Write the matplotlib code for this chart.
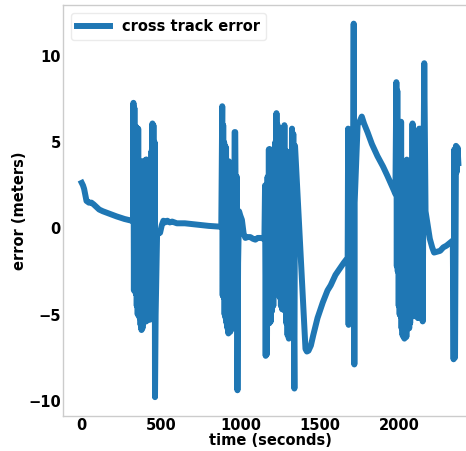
import numpy as np
import matplotlib
matplotlib.use('Agg')
import matplotlib.pyplot as plt

# time (s) and cross track error (m)
drift1_t = [0, 8, 15, 30, 45, 61, 75, 93, 110, 133, 177, 220, 270, 315, 323]
drift1_y = [2.65, 2.5, 2.3, 1.6, 1.5, 1.5, 1.4, 1.25, 1.1, 1.0, 0.85, 0.7, 0.55, 0.45, 0.4]

burst1_t = [326, 329, 332, 335, 338, 341, 344, 347, 350, 353, 356, 359, 362, 365, 368,
            371, 374, 377, 380, 383, 386, 389, 392, 395, 398, 401, 404, 407, 410, 413,
            416, 419, 422, 425, 428, 431, 434, 437, 440, 443, 446, 449, 452, 455, 460,
            462, 466, 475]
burst1_y = [7.3, -3.6, 7.0, -3.5, 5.9, -3.8, 5.9, -4.5, 4.5, -5.0, 5.8, -4.8, 3.9, -5.2, 3.8,
            -5.6, 3.7, -5.9, 3.9, -5.8, 3.6, -5.5, 3.9, -5.3, 3.8, -5.1, 4.0, -5.4, 4.0, -5.2,
            3.5, -5.3, 3.0, -5.0, 3.5, -5.3, 2.5, -5.2, 4.5, -5.0, 6.1, -4.5, 6.0, -3.5, 5.0,
            -9.8, -5.0, -0.4]

drift2_t = [482, 494, 505, 515, 525, 540, 555, 570, 600, 650, 700, 750, 800, 850, 880]
drift2_y = [-0.3, -0.25, 0.2, 0.45, 0.35, 0.45, 0.35, 0.4, 0.3, 0.3, 0.25, 0.2, 0.15, 0.12, 0.1]

burst2_t = [886, 889, 892, 895, 898, 901, 904, 907, 910, 913, 916, 919, 922, 925, 928,
            931, 934, 937, 940, 943, 946, 949, 952, 955, 958, 961, 964, 968, 974, 978,
            982, 986, 992]
burst2_y = [7.1, -3.9, 6.0, -4.0, 5.0, -5.0, 4.8, -5.2, 4.7, -5.5, 3.9, -5.8, 3.8, -6.1, 3.9,
            -5.9, 3.6, -6.0, 3.7, -5.6, 3.5, -5.8, 3.0, -5.8, 2.5, -5.0, 5.6, 5.6, -4.5, 3.0,
            -9.4, -2.0, 1.0]

drift3_t = [1000, 1010, 1021, 1032, 1045, 1063, 1080, 1095, 1110, 1127, 1152]
drift3_y = [0.75, 0.5, -0.3, -0.55, -0.5, -0.5, -0.6, -0.65, -0.55, -0.55, -0.6]

burst3_t = [1156, 1160, 1164, 1168, 1172, 1176, 1180, 1184, 1188, 1192, 1196, 1200, 1204,
            1208, 1212, 1216, 1220, 1224, 1228, 1232, 1236, 1240, 1244, 1248, 1252, 1256,
            1260, 1264, 1268, 1272, 1278, 1282, 1286, 1290, 1294, 1298, 1302, 1306, 1310,
            1314, 1318, 1322, 1326, 1330, 1334, 1338, 1341, 1345]
burst3_y = [2.5, -7.4, 2.4, -7.3, 3.0, -5.5, 4.6, -5.5, 4.6, -5.4, 4.4, -4.8, 3.5,
            -4.5, 4.5, -3.8, 5.0, -3.7, 6.7, -3.6, 6.0, -3.8, 5.2, -4.0, 4.8, -4.5,
            5.0, -4.7, 4.5, -4.6, 6.0, -4.8, 4.5, -5.5, 4.0, -6.2, 3.5, -6.4, 3.8,
            -5.5, 4.5, -5.0, 5.8, -4.0, 5.5, -5.5, -9.3, 4.8]

dip_t = [1411, 1420, 1430, 1445, 1460, 1487, 1520, 1550, 1570, 1600, 1630, 1652, 1677]
dip_y = [-7.0, -7.15, -7.1, -6.8, -6.2, -5.2, -4.3, -3.6, -3.3, -2.7, -2.3, -2.0, -1.7]

burst4_t = [1680, 1683, 1686, 1689, 1692, 1695, 1698, 1701, 1704, 1707, 1711, 1715, 1719, 1721]
burst4_y = [5.8, -5.6, 5.7, -5.5, 5.6, -5.4, 5.0, -5.0, 3.0, -5.5, 2.0, 11.9, -7.9, 1.5]

hump_t = [1740, 1752, 1766, 1780, 1802, 1830, 1865, 1900, 1928, 1950, 1969, 1978]
hump_y = [6.1, 6.2, 6.5, 6.1, 5.6, 4.9, 4.2, 3.6, 3.05, 2.6, 2.2, 2.0]

burst5_t = [1984, 1987, 1990, 1993, 1996, 1999, 2002, 2005, 2008, 2011, 2014, 2017, 2020,
            2023, 2026, 2029, 2032, 2035, 2038, 2041, 2044, 2047, 2050, 2053, 2056, 2059,
            2062, 2065, 2068, 2071, 2074, 2077, 2080, 2083, 2086, 2089, 2092, 2095, 2098,
            2101, 2104, 2107, 2110, 2113, 2116, 2119, 2122, 2125, 2128, 2131, 2134, 2137,
            2140, 2143, 2146, 2150, 2155, 2160, 2168]
burst5_y = [8.5, -2.2, 8.0, -2.5, 5.8, -4.5, 5.0, -5.0, 4.0, -5.1, 6.2, -5.8, 3.5,
            -6.2, 3.0, -6.3, 3.2, -6.4, 3.4, -6.0, 3.9, -6.3, 4.0, -5.8, 3.5, -5.5,
            2.5, -5.8, 3.0, -5.5, 2.0, -4.7, 3.0, -4.8, 6.1, -5.0, 5.0, -5.1, 5.2,
            -4.9, 4.5, -4.5, 4.8, -5.0, 4.8, -5.2, 4.0, -5.2, 5.8, -5.0, 3.0, -5.2,
            5.8, -4.2, 5.6, -5.4, 3.0, 9.6, 1.0]

tail_t = [2195, 2210, 2222, 2240, 2260, 2280, 2300, 2320, 2340, 2345, 2350, 2354, 2360,
          2366, 2370, 2375]
tail_y = [-0.6, -1.1, -1.4, -1.35, -1.3, -1.1, -1.0, -0.85, -0.7, -7.6, 4.6, -7.5, 4.8,
          3.3, 4.7, 3.8]

t = np.array(drift1_t + burst1_t + drift2_t + burst2_t + drift3_t + burst3_t + dip_t
             + burst4_t + hump_t + burst5_t + tail_t, dtype=float)
err = np.array(drift1_y + burst1_y + drift2_y + burst2_y + drift3_y + burst3_y + dip_y
               + burst4_y + hump_y + burst5_y + tail_y)

plt.rcParams['font.weight'] = 'bold'
plt.rcParams['font.size'] = 10.5

fig = plt.figure(figsize=(4.66, 4.51), dpi=100)
ax = fig.add_axes([0.135, 0.078, 0.889, 0.911])

ax.plot(t, err, color='#1f77b4', linewidth=4.3, label='cross track error')

for s in ax.spines.values():
    s.set_color('#cccccc')
    s.set_linewidth(1.0)
ax.tick_params(length=0, pad=1.5)
ax.set_xticks([0, 500, 1000, 1500, 2000])
ax.set_yticks([-10, -5, 0, 5, 10])
for lbl in ax.get_xticklabels() + ax.get_yticklabels():
    lbl.set_fontweight('bold')

ax.set_xlabel('time (seconds)', fontweight='bold', labelpad=0)
ax.set_ylabel('error (meters)', fontweight='bold', labelpad=1)

leg = ax.legend(loc='upper left', handlelength=2.3, borderaxespad=0.55)
leg.get_frame().set_edgecolor('#e6e6e6')

fig.savefig('out.png', dpi=100)
